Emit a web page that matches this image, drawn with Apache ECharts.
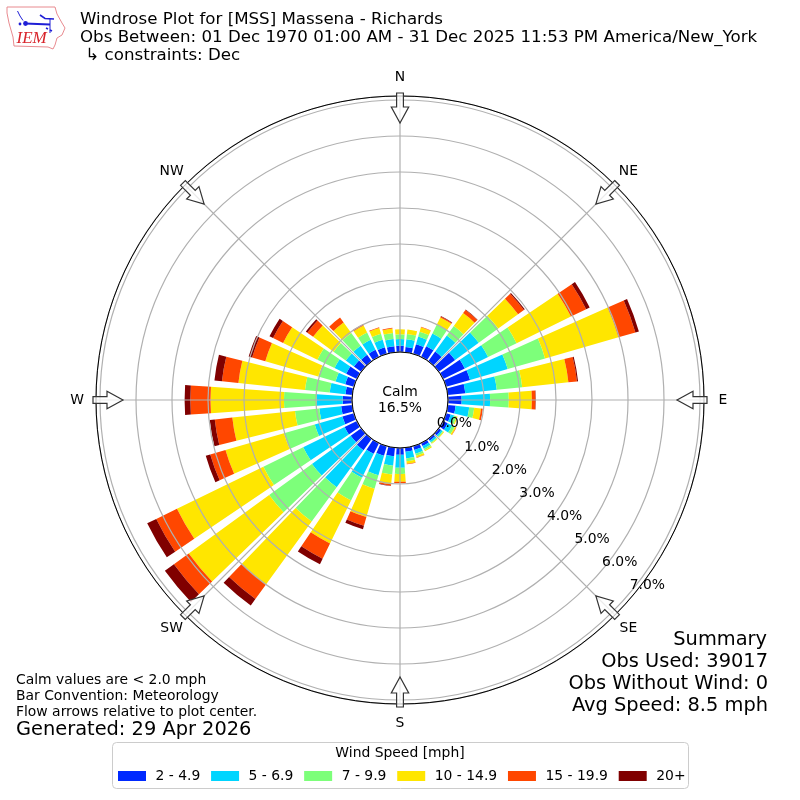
<!DOCTYPE html>
<html><head><meta charset="utf-8">
<style>html,body{margin:0;padding:0;background:#fff}#c{width:800px;height:800px}</style>
<script src="https://cdn.jsdelivr.net/npm/echarts@6/dist/echarts.min.js"></script>
</head><body><div id="c"></div>
<script>
// Direction of each bar, degrees clockwise from north
const directions = [0,10,20,30,40,50,60,70,80,90,100,110,120,130,140,150,160,170,180,190,200,210,220,230,240,250,260,270,280,290,300,310,320,330,340,350];
const speedLabels = ['2 - 4.9','5 - 6.9','7 - 9.9','10 - 14.9','15 - 19.9','20+'];
const speedColors = ['#0029ff','#00d5ff','#7dff7a','#ffe600','#ff4700','#800000'];
// Percent of observations per direction, one list per speed class
const speed2to5   = [.175,.15,.28,.33,.33,.56,.67,.69,.49,.38,.22,.13,.14,.08,.07,.09,.11,.11,.19,.24,.28,.33,.39,.36,.38,.33,.31,.26,.19,.25,.33,.25,.22,.22,.19,.17];
const speed5to7   = [.186,.21,.22,.39,.55,.81,.72,1.09,.88,.79,.38,.10,.14,.05,.05,.08,.11,.19,.36,.26,.56,.74,1.27,1.33,1.28,.80,.61,.72,.44,.28,.36,.28,.31,.31,.22,.20];
const speed7to10  = [.13,.15,.14,.28,.33,.67,.88,1.08,.71,.52,.14,.07,.08,.03,.03,.05,.06,.08,.17,.25,.39,.70,1.18,1.47,1.23,.89,.68,.91,.69,.50,.53,.42,.44,.22,.17,.17];
const speed10to15 = [.14,.125,.13,.22,.44,.68,1.68,2.12,1.29,.64,.19,.03,.04,.02,.02,.03,.05,.07,.22,.27,.82,1.33,2.16,2.76,2.67,1.69,1.75,2.04,1.86,1.53,1.06,.70,.36,.22,.17,.125];
const speed15to20 = [0,0,.01,.03,.11,.20,.47,.49,.24,.10,.05,.0,.01,0,0,0,.01,.01,.04,.04,.25,.47,.50,.51,.64,.44,.49,.56,.46,.38,.31,.20,.17,.04,.02,.02];
const speed20plus = [0,0,0,.01,.01,.03,.11,.10,.03,.01,0,0,0,0,0,0,0,0,0,.01,.10,.17,.22,.31,.28,.13,.14,.16,.21,.10,.11,.05,0,0,0,0];
const speedValues = [speed2to5,speed5to7,speed7to10,speed10to15,speed15to20,speed20plus];
const radialTicks = [0,1,2,3,4,5,6,7];
const compassLabels = ['N','NE','E','SE','S','SW','W','NW'];
const compassAngles = [0,45,90,135,180,225,270,315];
const titleLines = ['Windrose Plot for [MSS] Massena - Richards','Obs Between: 01 Dec 1970 01:00 AM - 31 Dec 2025 11:53 PM America/New_York',' \u21b3 constraints: Dec'];
const noteLines = ['Calm values are < 2.0 mph','Bar Convention: Meteorology','Flow arrows relative to plot center.'];
const generatedText = 'Generated: 29 Apr 2026';
const summaryLines = ['Summary','Obs Used: 39017','Obs Without Wind: 0','Avg Speed: 8.5 mph'];
const calmText = 'Calm\n16.5%';
const legendTitle = 'Wind Speed [mph]';

const F = '"DejaVu Sans"';
const cx = 400, cy = 400, rIn = 48, rOut = 304, pxPerPct = 36, radMax = (rOut - rIn) / pxPerPct;
const compassRadius = (323 - rIn) / pxPerPct;
const txt = (t, x, y, size, extra) => ({type:'text', z:20, style:Object.assign({text:t, x, y, font:size+'px '+F, fill:'#000', verticalAlign:'middle', align:'left'}, extra||{})});

const arrow = deg => ({
  type:'polygon', x:cx, y:cy, rotation:-deg*Math.PI/180, z:15,
  shape:{points:[[-3.4,-307],[3.4,-307],[3.4,-293],[8.7,-293],[0,-277],[-8.7,-293],[-3.4,-293]]},
  style:{fill:'rgba(255,255,255,0.75)', stroke:'#333', lineWidth:1.2}
});

const logoBlue = '#1f1fd6', logoRed = '#d8232a';
const lline = (pts, w) => ({type:'polyline', z:17, shape:{points:pts}, style:{stroke:logoBlue, lineWidth:w, fill:'none'}});
const logo = [
  {type:'polygon', z:16, shape:{points:[[7,7],[55,7],[57,14],[62,23],[65,28],[62,35],[57,38],[55,45],[53,49],[48,47],[14,46],[13,37],[9,23],[7,13]]}, style:{fill:'#fff', stroke:'#e88a8f', lineWidth:1}},
  lline([[25,23.5],[50,24.5]],2.2),
  {type:'circle', z:17, shape:{cx:25.5,cy:23.5,r:2.4}, style:{fill:logoBlue}},
  lline([[40,15],[45,18.5],[54,19]],1.6),
  lline([[50,19],[50,33]],1),
  lline([[17.5,11],[20,16],[23,20.5]],1),
  lline([[46,28],[48,29]],1.5),
  lline([[50,30],[52,31]],1.5),
  {type:'circle', z:17, shape:{cx:20,cy:24,r:1.4}, style:{fill:logoBlue}},
  {type:'text', z:17, style:{text:'IEM', x:16.5, y:38.5, font:'italic 17px "Liberation Serif"', fill:logoRed, verticalAlign:'middle'}}
];

const option = {
  animation:false,
  textStyle:{fontFamily:F},
  polar:[
    {center:[cx,cy], radius:[rIn,rOut]},
    {center:[cx,cy], radius:[rIn,rOut]}
  ],
  angleAxis:[
    {polarIndex:0, type:'category', data:directions, startAngle:95, clockwise:true,
     axisLine:{show:false}, axisTick:{show:false}, axisLabel:{show:false}, splitLine:{show:false}},
    {polarIndex:1, type:'value', min:0, max:360, interval:45, startAngle:90, clockwise:true, z:6,
     axisLine:{show:true, lineStyle:{color:'#000', width:1}}, axisTick:{show:false},
     axisLabel:{show:false},
     splitLine:{show:true, lineStyle:{color:'#b0b0b0', width:1.2}}}
  ],
  radiusAxis:[
    {polarIndex:0, min:0, max:radMax, show:false, splitLine:{show:false}, axisLine:{show:false}, axisTick:{show:false}, axisLabel:{show:false}},
    {polarIndex:1, min:0, max:radMax, interval:1, z:5,
     axisLine:{show:false}, axisTick:{show:false}, axisLabel:{show:false},
     splitLine:{show:true, lineStyle:{color:'#b0b0b0', width:1.2}}}
  ],
  legend:{left:113, top:764, icon:'rect', itemWidth:28, itemHeight:10, itemGap:10.8,
    textStyle:{fontSize:13.9, fontFamily:F, color:'#000', padding:[0,0,0,4.5]}, data:speedLabels, selectedMode:false, z:20},
  series: speedLabels.map((name,i) => ({
    type:'bar', name, coordinateSystem:'polar', polarIndex:0, stack:'wind', barWidth:'80%', z:2,
    itemStyle:{color:speedColors[i]}, data:speedValues[i]
  })).concat([{
    type:'scatter', coordinateSystem:'polar', polarIndex:1, symbolSize:1, z:7, silent:true, clip:false,
    itemStyle:{color:'rgba(255,255,255,0)'},
    data:radialTicks.map(t => [t,130]),
    label:{show:true, position:'inside', offset:[17.5,-7], color:'#000', opacity:1, textBorderWidth:0, fontSize:13.9, fontFamily:F,
      formatter:p => p.value[0].toFixed(1)+'%'}
  },{
    type:'scatter', coordinateSystem:'polar', polarIndex:1, symbolSize:1, z:7, silent:true, clip:false,
    itemStyle:{color:'rgba(255,255,255,0)'},
    data:compassAngles.map(a => [compassRadius,a]),
    label:{show:true, position:'inside', color:'#000', opacity:1, textBorderWidth:0, fontSize:13.9, fontFamily:F,
      formatter:p => compassLabels[p.dataIndex]}
  }]),
  graphic:{elements:[
    {type:'rect', z:0, shape:{x:112.5,y:742.5,width:576,height:46,r:4}, style:{fill:'#fff', stroke:'#cccccc', lineWidth:1}},
    txt(legendTitle, 400, 753, 13.9, {align:'center'}),
    txt(calmText, cx, cy, 13.9, {align:'center', lineHeight:16}),
    txt(titleLines[0], 80, 20, 16.67),
    txt(titleLines[1], 80, 37.5, 16.67),
    txt(titleLines[2], 80, 55.5, 16.67),
    txt(noteLines[0], 16, 680, 13.9),
    txt(noteLines[1], 16, 696, 13.9),
    txt(noteLines[2], 16, 712, 13.9),
    txt(generatedText, 16, 730, 19.4),
    txt(summaryLines[0], 767, 640, 19.4, {align:'right'}),
    txt(summaryLines[1], 768, 662, 19.4, {align:'right'}),
    txt(summaryLines[2], 768, 684, 19.4, {align:'right'}),
    txt(summaryLines[3], 768, 706, 19.4, {align:'right'})
  ].concat(compassAngles.map(arrow)).concat(logo)}
};
echarts.init(document.getElementById('c'), null, {renderer:'canvas'}).setOption(option);
</script></body></html>
